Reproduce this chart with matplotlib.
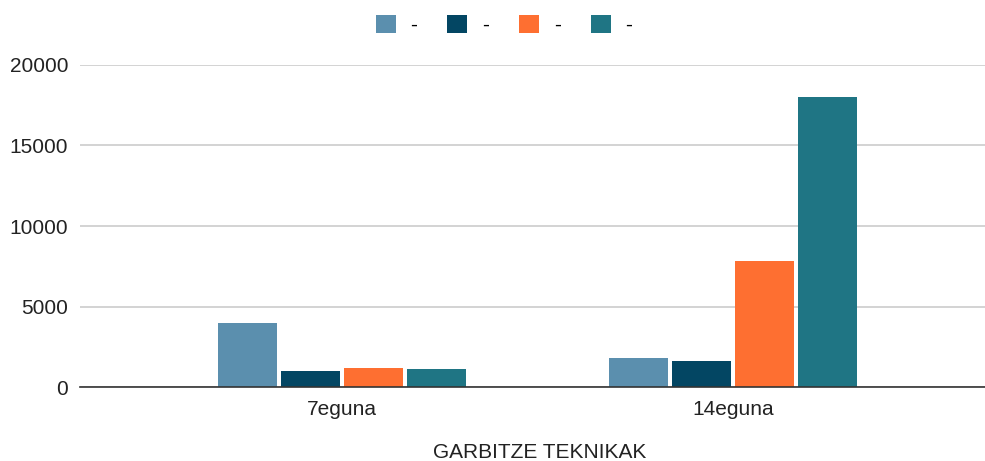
import numpy as np
import matplotlib
matplotlib.use('Agg')
from matplotlib import pyplot as plt
from matplotlib.patches import Patch

plt.rcParams['font.family'] = ['Liberation Sans', 'DejaVu Sans']

categories = ["7eguna", "14eguna"]
series_labels = ["-", "-", "-", "-"]
series_1 = [3950, 1800]
series_2 = [1000, 1600]
series_3 = [1180, 7800]
series_4 = [1090, 18000]
colors = ["#5b8fae", "#034663", "#fe6f31", "#1f7584"]
y_ticks = [0, 5000, 10000, 15000, 20000]

all_series = [series_1, series_2, series_3, series_4]

fig = plt.figure(figsize=(9.85, 4.61), dpi=100)
ax = fig.add_axes([80 / 985, 74 / 461, 905 / 985, 322 / 461])

x = np.arange(len(categories))
step = 0.161
width = 0.151
for i, vals in enumerate(all_series):
    offset = (i - 1.5) * step
    ax.bar(x + offset, vals, width=width, color=colors[i], zorder=3)

ax.set_xlim(-0.67, 1.645)
ax.set_ylim(0, 20000)
ax.set_yticks(y_ticks)
ax.set_yticklabels([str(t) for t in y_ticks])
ax.set_xticks(x)
ax.set_xticklabels(categories)
ax.tick_params(axis='both', length=0, labelsize=15, colors='#222222')
ax.tick_params(axis='y', pad=8.5)
ax.tick_params(axis='x', pad=9)

ax.grid(axis='y', color='#cccccc', linewidth=1.2, zorder=0)
for s in ['top', 'right', 'left']:
    ax.spines[s].set_visible(False)
ax.spines['bottom'].set_color('#333333')
ax.spines['bottom'].set_linewidth(1.2)
ax.spines['bottom'].set_zorder(4)

handles = [Patch(facecolor=c, edgecolor='none') for c in colors]
fig.legend(handles, series_labels, loc='center', bbox_to_anchor=(504 / 985, 1 - 25 / 461),
           ncol=4, frameon=False, fontsize=15, handlelength=0.96, handleheight=0.96,
           columnspacing=1.45, handletextpad=0.7)

fig.text(540 / 985, 1 - 452 / 461, "GARBITZE TEKNIKAK", ha='center', va='center',
         fontsize=15, color='#222222')

fig.savefig("out.png", dpi=100)
